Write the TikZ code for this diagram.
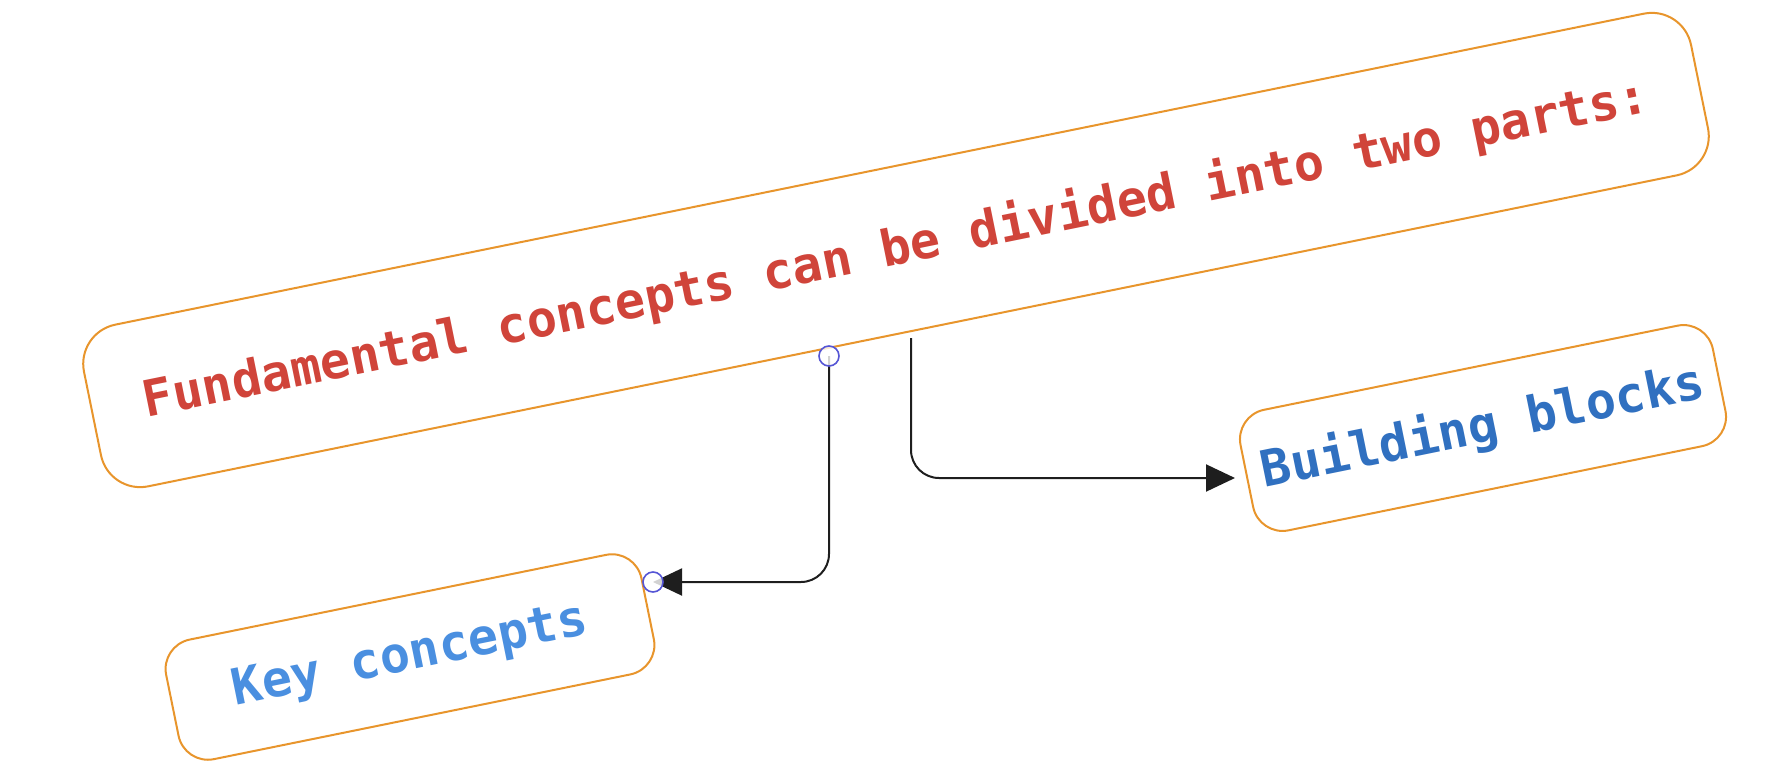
\documentclass[tikz,border=0pt]{standalone}
\usepackage{fontspec}
\newfontfamily\handfont{DejaVu Sans Mono}
\usetikzlibrary{arrows.meta}
\definecolor{boxorange}{HTML}{E8952C}
\definecolor{txtred}{HTML}{D0443A}
\definecolor{txtblueA}{HTML}{4A8FE0}
\definecolor{txtblueB}{HTML}{3070C0}
\definecolor{dotblue}{HTML}{5555D5}
\definecolor{linegray}{HTML}{1E1E1E}
\tikzset{
  tiltbox/.style={draw=boxorange, line width=2pt, fill=white, rotate=11.5,
    inner sep=0pt, align=center, font=\handfont\bfseries\fontsize{50}{60}\selectfont},
  conn/.style={draw=linegray, line width=2pt, rounded corners=28pt,
    -{Triangle[length=29pt,width=27pt]}},
  joint/.style={draw=dotblue, line width=1.6pt, fill=white, fill opacity=0.8, circle,
    minimum size=20pt, inner sep=0pt}
}
\begin{document}
\begin{tikzpicture}[x=1pt,y=-1pt]
\useasboundingbox (0,0) rectangle (1772,774);
% boxes
\node[tiltbox, minimum width=1640pt, minimum height=165pt, rounded corners=40pt, text=txtred]
  (main) at (896,250) {Fundamental concepts can be divided into two parts:};
\node[tiltbox, minimum width=485pt, minimum height=122pt, rounded corners=30pt, text=txtblueA]
  (key) at (410,657) {Key concepts};
\node[tiltbox, minimum width=482pt, minimum height=123pt, rounded corners=30pt, text=txtblueB]
  (build) at (1483,428) {Building blocks};
% connector end points
\coordinate (s1) at (829,356);
\coordinate (e1) at (653,582);
\coordinate (s2) at (911,338);
\coordinate (e2) at (1235,478);
% connectors
\draw[conn] (s1) |- (e1);
\draw[conn] (s2) |- (e2);
% joints
\node[joint] (j1) at (s1) {};
\node[joint] (j2) at (e1) {};
\end{tikzpicture}
\end{document}
